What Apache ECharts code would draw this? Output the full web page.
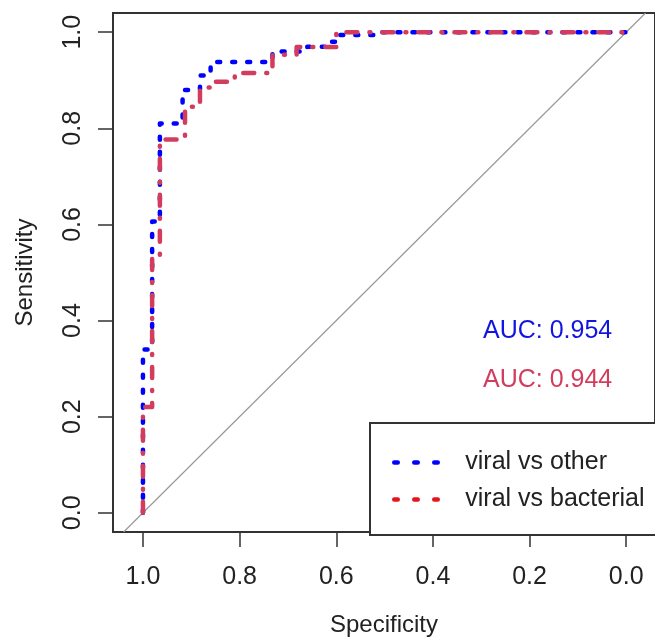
<!DOCTYPE html>
<html>
<head>
<meta charset="utf-8">
<script src="https://cdn.jsdelivr.net/npm/echarts@6/dist/echarts.min.js"></script>
<style>
  html, body { margin: 0; padding: 0; background: #fff; }
  #chart { width: 655px; height: 642px; }
</style>
</head>
<body>
<div id="chart"></div>
<script>
// 刻度
let tickValues = [0, 0.2, 0.4, 0.6, 0.8, 1.0];
// viral vs other (蓝)
let otherSpec = [1.0, 1.0, 0.981, 0.981, 0.965, 0.965, 0.918, 0.918, 0.882, 0.882, 0.86, 0.86, 0.732, 0.732, 0.66, 0.66, 0.62, 0.62, 0.6, 0.6, 0.51, 0.51, 0.0];
let otherSens = [0.0, 0.34, 0.34, 0.606, 0.606, 0.81, 0.81, 0.88, 0.88, 0.91, 0.91, 0.938, 0.938, 0.96, 0.96, 0.97, 0.97, 0.98, 0.98, 0.994, 0.994, 1.0, 1.0];
// viral vs bacterial (红)
let bactSpec = [1.0, 1.0, 0.981, 0.981, 0.965, 0.965, 0.913, 0.913, 0.882, 0.882, 0.855, 0.855, 0.81, 0.81, 0.732, 0.732, 0.682, 0.682, 0.6, 0.6, 0.0];
let bactSens = [0.0, 0.22, 0.22, 0.53, 0.53, 0.777, 0.777, 0.845, 0.845, 0.885, 0.885, 0.897, 0.897, 0.915, 0.915, 0.953, 0.953, 0.969, 0.969, 1.0, 1.0];
// 对角线
let diagSpec = [1.04, -0.04];
let diagSens = [-0.04, 1.04];
let legendNames = ["viral vs other", "viral vs bacterial"];
let aucTexts = ["AUC: 0.954", "AUC: 0.944"];

function pairs(xs, ys) {
    return xs.map(function (x, i) { return [x, ys[i]]; });
}

let font = "'Liberation Sans', Arial, Helvetica, sans-serif";
let blue = "#0000ff";
let red = "#d23d5e";

var myChart = echarts.init(document.getElementById("chart"), null, { renderer: "canvas" });
var option = {
    backgroundColor: "#fff",
    animation: false,
    grid: {
        left: 113, top: 13, right: -2, bottom: 106,
        show: true, borderColor: "#333", borderWidth: 2, backgroundColor: "transparent"
    },
    xAxis: {
        type: "value", min: -0.0596, max: 1.062, inverse: true, position: "bottom",
        name: "Specificity", nameLocation: "middle", nameGap: 81,
        nameTextStyle: { fontFamily: font, fontSize: 24, color: "#222" },
        axisLine: { show: false, onZero: false },
        splitLine: { show: false },
        axisTick: { show: true, inside: false, length: 15, customValues: tickValues, lineStyle: { color: "#333", width: 1.5 } },
        axisLabel: { customValues: tickValues, margin: 33, fontFamily: font, fontSize: 25, color: "#222",
            formatter: function (v) { return v.toFixed(1); } }
    },
    yAxis: {
        type: "value", min: -0.04, max: 1.04, position: "left",
        name: "Sensitivity", nameLocation: "middle", nameGap: 76,
        nameTextStyle: { fontFamily: font, fontSize: 24, color: "#222" },
        axisLine: { show: false, onZero: false },
        splitLine: { show: false },
        axisTick: { show: true, inside: false, length: 15, customValues: tickValues, lineStyle: { color: "#333", width: 1.5 } },
        axisLabel: { customValues: tickValues, rotate: 90, margin: 27, fontFamily: font, fontSize: 25, color: "#222",
            formatter: function (v) { return v.toFixed(1); } }
    },
    legend: {
        orient: "vertical", left: 370, top: 423,
        padding: [27, 60, 23, 22],
        itemWidth: 46, itemHeight: 14, itemGap: 12,
        borderColor: "#333", borderWidth: 2, backgroundColor: "#fff",
        textStyle: { fontFamily: font, fontSize: 25, color: "#222", padding: [0, 0, 0, 20] },
        itemStyle: { opacity: 0 },
        data: [
            { name: legendNames[0], itemStyle: { opacity: 0 }, lineStyle: { color: blue, width: 4.5, type: [3.5, 16.5], cap: "round" } },
            { name: legendNames[1], itemStyle: { opacity: 0 }, lineStyle: { color: "#e8141c", width: 4.5, type: [3.5, 16.5], cap: "round" } }
        ]
    },
    graphic: [
        { type: "text", left: 483, top: 319, style: { text: aucTexts[0], fill: "#1414e0", font: "25px " + font } },
        { type: "text", left: 483, top: 368, style: { text: aucTexts[1], fill: red, font: "25px " + font } }
    ],
    series: [
        {
            name: "diag", type: "line", data: pairs(diagSpec, diagSens), showSymbol: false, silent: true,
            lineStyle: { color: "#999", width: 1.2 }, z: 1
        },
        {
            name: legendNames[0], type: "line", data: pairs(otherSpec, otherSens), showSymbol: false, symbol: "none",
            color: blue,
            lineStyle: { color: blue, width: 4.5, type: [3, 12], cap: "round", join: "round" }, z: 2
        },
        {
            name: legendNames[1], type: "line", data: pairs(bactSpec, bactSens), showSymbol: false, symbol: "none",
            color: red,
            lineStyle: { color: red, width: 4.5, type: [11, 12, 1, 12], cap: "round", join: "round" }, z: 3
        }
    ]
};
myChart.setOption(option);
</script>
</body>
</html>
